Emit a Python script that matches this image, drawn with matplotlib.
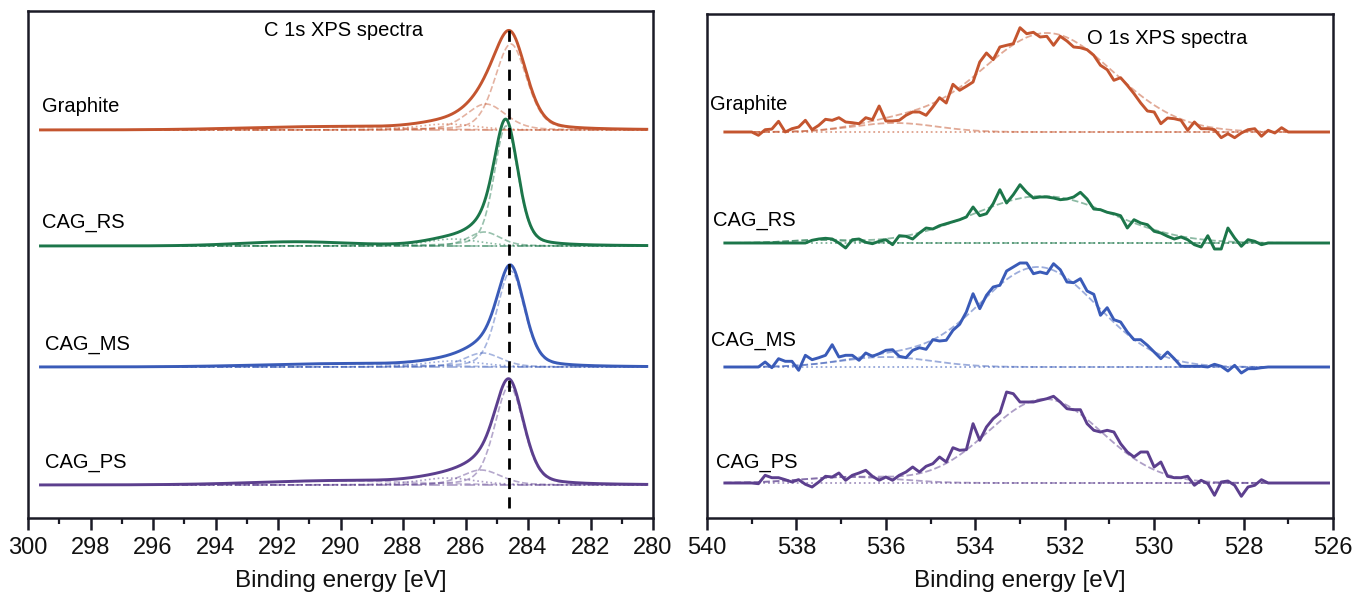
import numpy as np
import matplotlib
matplotlib.use("Agg")
import matplotlib.pyplot as plt
from matplotlib.ticker import MultipleLocator

plt.rcParams['font.family'] = ['Liberation Sans', 'DejaVu Sans']

samples = ["Graphite", "CAG_RS", "CAG_MS", "CAG_PS"]
colors = ["#c4552f", "#1c764a", "#3a5bb8", "#5c3f8e"]

# ---------------- C 1s: fitted components (centre eV, FWHM eV, height a.u.) ----------------
c1s_main_center = [284.55, 284.70, 284.55, 284.60]
c1s_main_fwhm = [1.20, 0.90, 1.04, 1.10]
c1s_main_height = [86, 120, 96, 99]

c1s_second_center = [285.35, 285.40, 285.45, 285.50]
c1s_second_fwhm = [1.50, 1.20, 1.40, 1.50]
c1s_second_height = [26, 14, 14, 15]

c1s_third_center = [286.6, 286.4, 286.4, 286.6]
c1s_third_fwhm = [2.2, 2.0, 2.2, 2.2]
c1s_third_height = [6, 7, 6, 7]

c1s_pi_center = [290.5, 291.5, 290.0, 290.0]
c1s_pi_fwhm = [6.0, 4.0, 6.0, 6.0]
c1s_pi_height = [3, 4, 3, 4]

c1s_offset = [388, 272, 151, 33]
c1s_range = (299.6, 280.2)
c1s_reference_line = 284.6

# ---------------- O 1s: measured counts (a.u.) on the 0.15 eV grid from 539.0 eV ----------------
o1s_start, o1s_step = 539.0, 0.15
o1s_edges = (539.6, 526.1)

o1s_graphite = [0, -3.3, 2.3, 2.9, 10.7, 0, 3.3, 5, 11.7, 2.3,
                6.7, 12.7, 11.7, 14.3, 10, 9.3, 8.3, 14.3, 12.3, 26,
                11, 11, 11.7, 16.7, 20, 20, 16.7, 25, 34.3, 29,
                47.7, 41.7, 45.7, 50, 70, 79, 72.3, 85, 86.7, 88.3,
                104.3, 98.3, 99.7, 95, 95.7, 86.7, 95.7, 91, 85, 84.3,
                82.3, 76.7, 66.7, 62.3, 51.7, 54.3, 46.7, 38.3, 29, 21,
                20, 8.3, 14, 13.3, 11.7, 1.7, 10, 3.3, 3.3, 2.3,
                -5.7, -1.7, -5.7, -1, 2.3, 3.3, -4.3, 1.7, -1, 4.3,
                0]
o1s_rs = [0, 0, 0, 0, 0, 0, 0, 0, 0, 2.7,
          4, 4.7, 4, 0, -5, 3.3, 4, 0.7, -0.7, 1.7,
          3.3, -1.7, 7.3, 6.7, 4, 10, 15, 14, 17.3, 19.3,
          21.3, 23.3, 26, 36, 27.3, 29.3, 39.3, 53.3, 40, 48.3,
          58.3, 50.7, 45, 46, 46, 45, 43.3, 44, 46, 50.7,
          44, 34, 33.3, 30.7, 29.3, 27.3, 15, 23.3, 20, 18.3,
          11.7, 10, 6.7, 4, 6, 3.3, -1.7, -4, 7.3, -6,
          -6, 15, 5, -3.3, 3.3, 1.7, -1.7, 0, 0, 0,
          0]
o1s_ms = [0, 0, 5, -0.7, 8.3, 5.7, 5.7, -3.3, 11.7, 7.3,
          9.3, 11.7, 22.3, 10, 11.7, 11.7, 6.7, 14, 10.7, 13.3,
          16.7, 17.3, 10.7, 9.3, 16.7, 19.3, 17.7, 27.3, 26, 26.7,
          36.7, 42.7, 55, 73.3, 58.3, 71.7, 80, 81.7, 96, 100,
          104, 104, 93.3, 95, 93.3, 103.3, 97.3, 85, 84.3, 88.3,
          76, 72.7, 51.7, 59.3, 47.3, 45, 35, 27.3, 27.3, 21.7,
          15, 8.3, 15, 8.3, 0.7, 0.7, 0.7, 0.7, 0, 2.7,
          0.7, -4, 1.7, -6, -1.7, -1.7, -0.7, 0, 0, 0,
          0]
o1s_ps = [0, -0.7, 7.7, 5.3, 5.3, 3.3, 1, 3.3, -1.3, -4,
          1, 6.7, 6, 10, 2.7, 7.7, 10, 12.7, 6.7, 2.7,
          6, 2.7, 7.7, 11, 16, 11, 16.7, 19.3, 26, 21,
          35.3, 32.7, 33.3, 59.3, 42.7, 56, 64.3, 70, 91, 89.3,
          81, 81, 81, 82.7, 84.3, 86.7, 81, 74.3, 73.3, 73.3,
          59.3, 52.7, 51, 52.7, 51, 39.3, 31, 26, 31, 31,
          16, 21, 6.7, 5.3, 5.3, 6.7, -2.3, 2.7, -0.7, -12.3,
          1, 2, -2.3, -13.3, -4, -2.3, 3.3, 0, 0, 0,
          0]
o1s_counts = [o1s_graphite, o1s_rs, o1s_ms, o1s_ps]

# O 1s fitted components (Gaussian): main and minor high-energy peak
o1s_main_center = [532.40, 532.50, 532.60, 532.45]
o1s_main_fwhm = [3.5, 3.7, 3.15, 3.0]
o1s_main_height = [99, 47, 100, 84]
o1s_minor_center = [535.8, 537.5, 536.0, 536.8]
o1s_minor_fwhm = [2.2, 1.6, 2.4, 2.5]
o1s_minor_height = [9, 3, 10, 6]

o1s_offset = [386, 275, 151, 35]


def pseudo_voigt(x, c, fwhm, h, eta=0.3):
    u = (x - c) / (fwhm / 2.0)
    return h * ((1 - eta) * np.exp(-np.log(2) * u ** 2) + eta / (1 + u ** 2))


def gauss(x, c, fwhm, h):
    return h * np.exp(-4 * np.log(2) * ((x - c) / fwhm) ** 2)


fig = plt.figure(figsize=(13.52, 5.97), dpi=100)
fig.patch.set_facecolor("white")

# axes positions in figure fraction
W, H = 1352.0, 597.0
axL = fig.add_axes([28 / W, 1 - 518 / H, (653 - 28) / W, (518 - 11) / H])
axR = fig.add_axes([707 / W, 1 - 518 / H, (1333 - 707) / W, (518 - 13.5) / H])

spine_color = "#1b1b26"
for ax in (axL, axR):
    for s in ax.spines.values():
        s.set_linewidth(1.8)
        s.set_color(spine_color)
    ax.set_yticks([])
    ax.tick_params(axis="x", which="major", direction="out", length=8.5, width=1.8,
                   color=spine_color, labelsize=17, pad=5, labelcolor="#111111")
    ax.tick_params(axis="x", which="minor", direction="out", length=4.5, width=1.6,
                   color=spine_color)
    ax.xaxis.set_major_locator(MultipleLocator(2))
    ax.xaxis.set_minor_locator(MultipleLocator(1))
    ax.set_xlabel("Binding energy [eV]", fontsize=17.5, labelpad=8, color="#111111")

# ---------------- C 1s panel ----------------
axL.set_xlim(300, 280)
axL.set_ylim(0, 507)
x = np.linspace(c1s_range[0], c1s_range[1], 1200)
for i, name in enumerate(samples):
    col = colors[i]
    off = c1s_offset[i]
    p1 = pseudo_voigt(x, c1s_main_center[i], c1s_main_fwhm[i], c1s_main_height[i])
    p2 = pseudo_voigt(x, c1s_second_center[i], c1s_second_fwhm[i], c1s_second_height[i])
    p3 = pseudo_voigt(x, c1s_third_center[i], c1s_third_fwhm[i], c1s_third_height[i])
    p4 = gauss(x, c1s_pi_center[i], c1s_pi_fwhm[i], c1s_pi_height[i])
    env = p1 + p2 + p3 + p4
    axL.plot(x, off + np.zeros_like(x), color=col, lw=1.2, ls="-.", alpha=0.5)
    axL.plot(x, off + p1, color=col, lw=1.2, ls="--", alpha=0.45)
    axL.plot(x, off + p2, color=col, lw=1.2, ls="--", alpha=0.45)
    axL.plot(x, off + p3, color=col, lw=1.2, ls=":", alpha=0.5)
    axL.plot(x, off + p4, color=col, lw=1.2, ls="--", alpha=0.35)
    axL.plot(x, off + env, color=col, lw=2.1)

axL.axvline(c1s_reference_line, ymin=0.02, ymax=0.977, color="black", lw=2.0,
            ls=(0, (4, 3)))

axL.text(299.55, 411, "Graphite", fontsize=14.5, va="center", ha="left")
axL.text(299.55, 296, "CAG_RS", fontsize=14.5, va="center", ha="left")
axL.text(299.45, 173, "CAG_MS", fontsize=14.5, va="center", ha="left")
axL.text(299.45, 56, "CAG_PS", fontsize=14.5, va="center", ha="left")
axL.text(289.9, 488, "C 1s XPS spectra", fontsize=14.5, va="center", ha="center")

# ---------------- O 1s panel ----------------
axR.set_xlim(540, 526)
axR.set_ylim(0, 504.5)
xf = np.linspace(o1s_edges[0], o1s_edges[1], 800)
for i, name in enumerate(samples):
    col = colors[i]
    off = o1s_offset[i]
    counts = np.asarray(o1s_counts[i], dtype=float)
    e = o1s_start - o1s_step * np.arange(len(counts))
    ex = np.concatenate([[o1s_edges[0]], e, [o1s_edges[1]]])
    cy = np.concatenate([[0.0], counts, [0.0]])
    main = gauss(xf, o1s_main_center[i], o1s_main_fwhm[i], o1s_main_height[i])
    minor = gauss(xf, o1s_minor_center[i], o1s_minor_fwhm[i], o1s_minor_height[i])
    axR.plot(xf, off + np.zeros_like(xf), color=col, lw=1.3, ls=":", alpha=0.55)
    axR.plot(xf, off + minor, color=col, lw=1.3, ls="--", alpha=0.5)
    axR.plot(xf, off + main + minor, color=col, lw=1.3, ls="--", alpha=0.5)
    axR.plot(ex, off + cy, color=col, lw=2.1)

axR.text(539.93, 414, "Graphite", fontsize=14.5, va="center", ha="left")
axR.text(539.87, 298, "CAG_RS", fontsize=14.5, va="center", ha="left")
axR.text(539.9, 178, "CAG_MS", fontsize=14.5, va="center", ha="left")
axR.text(539.8, 56, "CAG_PS", fontsize=14.5, va="center", ha="left")
axR.text(529.7, 480, "O 1s XPS spectra", fontsize=14.5, va="center", ha="center")

fig.savefig("out.png", dpi=100, facecolor="white")
